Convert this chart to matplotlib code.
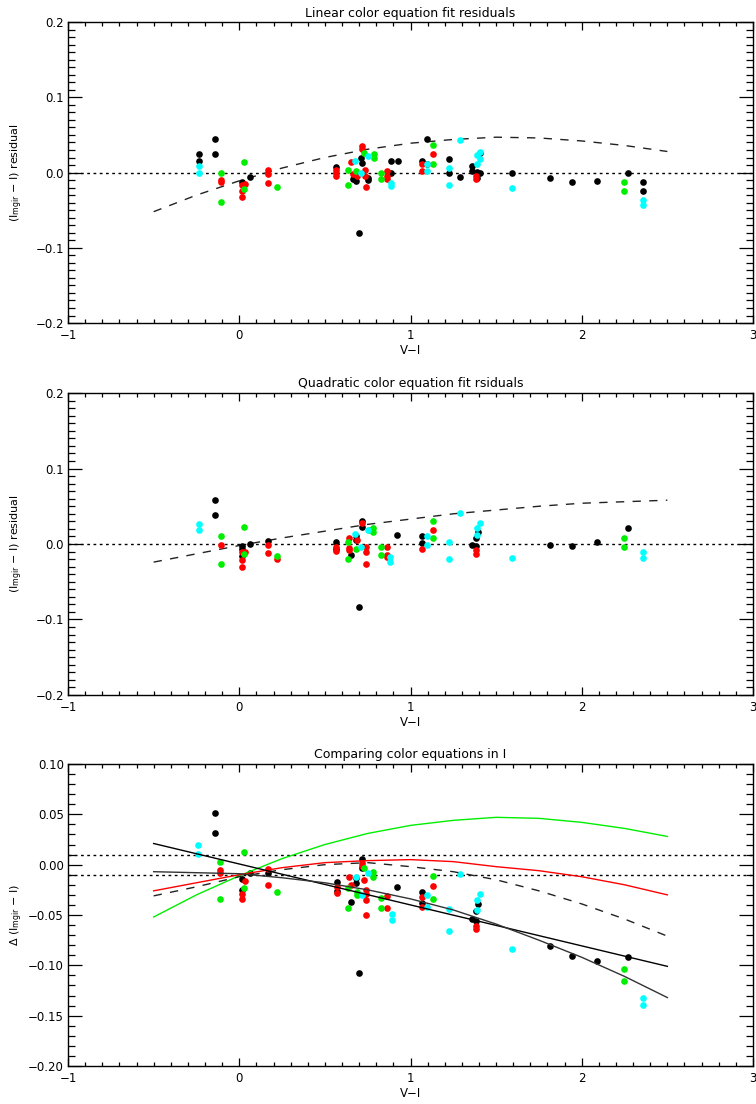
import matplotlib
matplotlib.use('Agg')
import matplotlib.pyplot as plt
from matplotlib.ticker import MultipleLocator, FuncFormatter

plt.rcParams['font.family'] = ['DejaVu Sans']

# colours of the four star groups
GROUP_COLORS = ['black', '#ff0000', '#00ee00', '#00ffff']

# ---- panel 1: linear colour equation residuals ----
lin_black_x = [-0.238, -0.238, -0.144, -0.144, 0.016, 0.064, 0.567, 0.667, 0.680, 0.708, 0.717, 0.698,
               0.753, 0.753, 0.887, 0.926, 0.887, 1.068, 1.097, 1.097, 1.222, 1.222, 1.287, 1.357,
               1.386, 1.405, 1.386, 1.360, 1.404, 1.594, 1.813, 1.946, 2.088, 2.273, 2.358, 2.358]
lin_black_y = [0.025, 0.016, 0.045, 0.025, -0.012, -0.006, 0.007, -0.009, -0.011, 0.019, 0.013, -0.080,
               -0.007, -0.010, 0.015, 0.016, 0.000, 0.016, 0.011, 0.045, 0.018, 0.000, -0.006, 0.002,
               0.001, 0.000, -0.007, 0.009, 0.026, 0.000, -0.007, -0.012, -0.011, 0.000, -0.012, -0.024]
lin_red_x = [-0.107, -0.107, 0.016, 0.016, 0.016, 0.031, 0.166, 0.166, 0.166, 0.567, 0.567, 0.567,
             0.653, 0.717, 0.717, 0.737, 0.737, 0.741, 0.667, 0.690, 0.863, 0.863, 0.863, 1.068,
             1.068, 1.132, 1.380, 1.380]
lin_red_y = [-0.010, -0.013, -0.016, -0.025, -0.032, -0.015, 0.003, -0.002, -0.014, 0.004, -0.001, -0.005,
             0.014, 0.035, 0.031, 0.004, -0.005, -0.019, -0.002, -0.005, 0.002, -0.004, -0.009, 0.011,
             0.002, 0.025, -0.005, -0.008]
lin_green_x = [-0.107, -0.107, 0.029, 0.029, 0.220, 0.634, 0.634, 0.684, 0.727, 0.786, 0.786, 0.830,
               0.830, 1.132, 1.132, 2.244, 2.244]
lin_green_y = [-0.001, -0.039, 0.014, -0.022, -0.019, 0.003, -0.017, 0.002, 0.026, 0.025, 0.020, 0.000,
               -0.009, 0.036, 0.012, -0.013, -0.024]
lin_cyan_x = [-0.238, -0.238, 0.678, 0.708, 0.750, 0.887, 0.887, 1.097, 1.097, 1.222, 1.222, 1.287,
              1.386, 1.405, 1.405, 1.386, 1.594, 2.358, 2.358]
lin_cyan_y = [0.009, 0.000, 0.015, 0.000, 0.022, -0.014, -0.018, 0.012, 0.002, 0.006, -0.017, 0.043,
              0.023, 0.027, 0.018, 0.012, -0.020, -0.036, -0.043]

# ---- panel 2: quadratic colour equation residuals ----
quad_black_x = [-0.144, -0.144, 0.016, 0.016, 0.016, 0.064, 0.166, 0.567, 0.567, 0.653, 0.682, 0.682,
                0.717, 0.717, 0.698, 0.922, 1.068, 1.068, 1.357, 1.380, 1.396, 1.380, 1.813, 1.946,
                2.088, 2.273]
quad_black_y = [0.058, 0.038, -0.002, -0.007, -0.016, 0.000, 0.004, 0.003, -0.006, -0.015, 0.010, 0.005,
                0.031, 0.022, -0.084, 0.012, 0.011, 0.001, -0.001, 0.008, 0.016, -0.003, -0.001, -0.002,
                0.003, 0.021]
quad_red_x = [-0.107, 0.016, 0.016, 0.016, 0.031, 0.166, 0.166, 0.220, 0.567, 0.567, 0.640, 0.640,
              0.640, 0.717, 0.687, 0.741, 0.741, 0.741, 0.863, 0.863, 0.863, 1.068, 1.132, 1.380,
              1.380]
quad_red_y = [-0.001, -0.010, -0.021, -0.030, -0.010, -0.001, -0.012, -0.020, -0.004, -0.009, 0.008, -0.005,
              -0.008, 0.028, 0.005, -0.004, -0.010, -0.027, -0.004, -0.015, -0.017, -0.007, 0.019, -0.008,
              -0.013]
quad_green_x = [-0.107, -0.107, 0.029, 0.029, 0.220, 0.635, 0.635, 0.684, 0.760, 0.782, 0.782, 0.830,
                0.830, 1.132, 1.132, 2.244, 2.244]
quad_green_y = [0.011, -0.027, 0.022, -0.013, -0.016, 0.002, -0.020, -0.007, 0.019, 0.021, 0.016, -0.004,
                -0.014, 0.031, 0.008, 0.008, -0.004]
quad_cyan_x = [-0.238, -0.238, 0.675, 0.708, 0.753, 0.883, 0.883, 1.097, 1.097, 1.222, 1.222, 1.287,
               1.386, 1.405, 1.386, 1.594, 2.358, 2.358]
quad_cyan_y = [0.027, 0.018, 0.013, -0.004, 0.019, -0.017, -0.024, 0.011, -0.001, 0.003, -0.020, 0.041,
               0.021, 0.028, 0.012, -0.018, -0.010, -0.018]

# ---- panel 3: comparing colour equations ----
cmp_black_x = [-0.144, -0.144, 0.016, 0.016, 0.064, 0.166, 0.571, 0.571, 0.653, 0.682, 0.682, 0.717,
               0.717, 0.698, 0.922, 1.068, 1.068, 1.357, 1.380, 1.380, 1.396, 1.813, 1.946, 2.088,
               2.273]
cmp_black_y = [0.051, 0.031, -0.014, -0.025, -0.008, -0.008, -0.017, -0.026, -0.037, -0.013, -0.018, 0.006,
               -0.003, -0.108, -0.022, -0.027, -0.038, -0.054, -0.056, -0.046, -0.039, -0.081, -0.091, -0.096,
               -0.092]
cmp_red_x = [-0.111, -0.111, 0.031, 0.016, 0.016, 0.166, 0.166, 0.571, 0.571, 0.640, 0.653, 0.717,
             0.717, 0.731, 0.741, 0.741, 0.741, 0.741, 0.863, 0.863, 1.068, 1.068, 1.132, 1.380,
             1.380]
cmp_red_y = [-0.005, -0.008, -0.016, -0.029, -0.034, -0.004, -0.020, -0.022, -0.028, -0.012, -0.020, 0.002,
             -0.001, -0.015, -0.025, -0.029, -0.035, -0.050, -0.031, -0.043, -0.032, -0.042, -0.021, -0.061,
             -0.064]
cmp_green_x = [-0.111, -0.111, 0.029, 0.029, 0.220, 0.635, 0.635, 0.687, 0.687, 0.727, 0.780, 0.780,
               0.828, 0.828, 1.132, 1.132, 2.244, 2.244]
cmp_green_y = [0.003, -0.034, 0.013, -0.023, -0.027, -0.023, -0.043, -0.027, -0.030, -0.003, -0.007, -0.012,
               -0.033, -0.043, -0.011, -0.034, -0.104, -0.116]
cmp_cyan_x = [-0.242, -0.242, 0.682, 0.753, 0.717, 0.893, 0.893, 1.097, 1.097, 1.222, 1.222, 1.287,
              1.386, 1.405, 1.386, 1.594, 2.358, 2.358]
cmp_cyan_y = [0.020, 0.011, -0.012, -0.008, -0.030, -0.049, -0.055, -0.030, -0.042, -0.044, -0.066, -0.009,
              -0.035, -0.029, -0.045, -0.084, -0.132, -0.139]

# ---- fitted curves ----
curve_x = [-0.5, -0.25, 0.0, 0.25, 0.5, 0.75, 1.0, 1.25, 1.5, 1.75, 2.0, 2.25, 2.5]
quad_minus_lin = [-0.052, -0.030, -0.011, 0.006, 0.020, 0.031, 0.039, 0.044, 0.047, 0.046, 0.042, 0.036, 0.028]
quad_resid_curve = [-0.024, -0.013, -0.002, 0.008, 0.017, 0.026, 0.033, 0.040, 0.045, 0.050, 0.054, 0.056, 0.058]
red_curve = [-0.026, -0.018, -0.010, -0.003, 0.002, 0.004, 0.005, 0.003, -0.002, -0.006, -0.012, -0.020, -0.030]
dashed_curve = [-0.031, -0.022, -0.012, -0.005, 0.000, 0.002, -0.002, -0.007, -0.015, -0.026, -0.039, -0.054, -0.071]
black_curve = [-0.007, -0.008, -0.009, -0.013, -0.018, -0.025, -0.034, -0.045, -0.059, -0.075, -0.092, -0.111, -0.132]
line_x = [-0.5, 2.5]
line_y = [0.021, -0.101]

YLAB = r'(I$_{\mathrm{mgir}}$ $-$ I) residual'
DOTTED = (0, (2, 2.5))


def style_axes(ax, ymin, ymax, ymajor, fmt):
    ax.set_xlim(-1, 3)
    ax.set_ylim(ymin, ymax)
    ax.xaxis.set_major_locator(MultipleLocator(1))
    ax.xaxis.set_minor_locator(MultipleLocator(0.1))
    ax.yaxis.set_major_locator(MultipleLocator(ymajor))
    ax.yaxis.set_minor_locator(MultipleLocator(0.01))
    ax.yaxis.set_major_formatter(FuncFormatter(lambda v, p: fmt.format(v).replace('-', '\u2212')))
    ax.xaxis.set_major_formatter(FuncFormatter(lambda v, p: '{:.0f}'.format(v).replace('-', '\u2212')))
    ax.tick_params(which='both', direction='in', top=True, right=True, labelsize=8.5, width=0.9)
    ax.tick_params(axis='x', which='major', length=6, pad=4)
    ax.tick_params(axis='x', which='minor', length=3)
    ax.tick_params(axis='y', which='major', length=10, pad=3)
    ax.tick_params(axis='y', which='minor', length=5)
    for s in ax.spines.values():
        s.set_linewidth(1.0)
    ax.set_xlabel('V\u2212I', fontsize=8.5, labelpad=2)
    ax.yaxis.set_label_coords(-0.063, 0.5)


def scatter_groups(ax, groups):
    for (xs, ys), c in zip(groups, GROUP_COLORS):
        ax.plot(xs, ys, 'o', color=c, ms=4.8, mew=0, ls='none', zorder=3)


fig = plt.figure(figsize=(7.56, 11.04), dpi=100)
ax1 = fig.add_axes([0.090, 0.7074, 0.906, 0.2726])
ax2 = fig.add_axes([0.090, 0.3705, 0.906, 0.2735])
ax3 = fig.add_axes([0.090, 0.0344, 0.906, 0.2736])

# Panel 1
ax1.axhline(0, color='black', lw=1, ls=DOTTED)
ax1.plot(curve_x, quad_minus_lin, color='#222222', lw=1, dashes=(6, 6))
scatter_groups(ax1, [(lin_black_x, lin_black_y), (lin_red_x, lin_red_y),
                     (lin_green_x, lin_green_y), (lin_cyan_x, lin_cyan_y)])
style_axes(ax1, -0.2, 0.2, 0.1, '{:.1f}')
ax1.set_title('Linear color equation fit residuals', fontsize=9, pad=4)
ax1.set_ylabel(YLAB, fontsize=8)

# Panel 2
ax2.axhline(0, color='black', lw=1, ls=DOTTED)
ax2.plot(curve_x, quad_resid_curve, color='#222222', lw=1, dashes=(6, 6))
scatter_groups(ax2, [(quad_black_x, quad_black_y), (quad_red_x, quad_red_y),
                     (quad_green_x, quad_green_y), (quad_cyan_x, quad_cyan_y)])
style_axes(ax2, -0.2, 0.2, 0.1, '{:.1f}')
ax2.set_title('Quadratic color equation fit rsiduals', fontsize=9, pad=4)
ax2.set_ylabel(YLAB, fontsize=8)

# Panel 3
ax3.axhline(0.01, color='black', lw=1, ls=DOTTED)
ax3.axhline(-0.01, color='black', lw=1, ls=DOTTED)
scatter_groups(ax3, [(cmp_black_x, cmp_black_y), (cmp_red_x, cmp_red_y),
                     (cmp_green_x, cmp_green_y), (cmp_cyan_x, cmp_cyan_y)])
ax3.plot(curve_x, quad_minus_lin, color='#00ee00', lw=1, zorder=4)
ax3.plot(curve_x, red_curve, color='#ff0000', lw=1, zorder=4)
ax3.plot(curve_x, dashed_curve, color='#222222', lw=1, dashes=(6, 6), zorder=4)
ax3.plot(line_x, line_y, color='black', lw=1, zorder=4)
ax3.plot(curve_x, black_curve, color='#333333', lw=1, zorder=4)
style_axes(ax3, -0.2, 0.1, 0.05, '{:.2f}')
ax3.set_title('Comparing color equations in I', fontsize=9, pad=4)
ax3.set_ylabel('\u0394 ' + r'(I$_{\mathrm{mgir}}$ $-$ I)', fontsize=8)

fig.savefig('out.png', dpi=100)
